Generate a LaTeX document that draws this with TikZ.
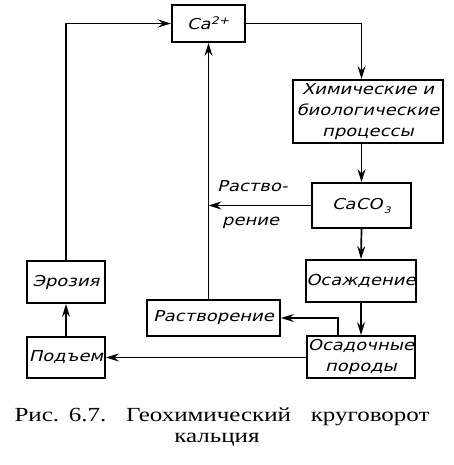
\documentclass[tikz,border=0pt]{standalone}
\usepackage{fontspec}
\setmainfont{Liberation Serif}[FakeStretch=1.25]
\newfontfamily\gostfont{DejaVu Sans}[FakeSlant=0.25, FakeStretch=1.2]
\usepackage{tikz}
\usetikzlibrary{arrows.meta,positioning}

\begin{document}
\begin{tikzpicture}[x=1pt, y=-1pt,
  cbox/.style={draw, line width=1.9pt, inner sep=0pt, align=center,
    font=\gostfont\fontsize{15}{21}\selectfont},
  arr/.style={-{Stealth[length=13pt, width=8pt, inset=4.5pt]}, line width=1.7pt},
  lbl/.style={font=\gostfont\fontsize{15}{21}\selectfont, anchor=base west, inner sep=0pt},
  capt/.style={font=\fontsize{20}{22}\selectfont, inner sep=0pt, anchor=base}
]
  \useasboundingbox (0,0) rectangle (454,465);

  \node[cbox, minimum width=73pt, minimum height=37pt] (ca) at (208.5,23.5) {Ca\textsuperscript{2+}};
  \node[cbox, minimum width=150pt, minimum height=63pt] (chem) at (368,111.5)
    {Химические и\\биологические\\процессы};
  \node[cbox, minimum width=99pt, minimum height=45pt] (caco) at (361.5,205.5)
    {CaCO\kern1.5pt\raisebox{-4pt}{\small 3}};
  \node[cbox, minimum width=108pt, minimum height=42pt] (osazh) at (361,281) {Осаждение};
  \node[cbox, minimum width=108pt, minimum height=42pt] (porody) at (361,357) {Осадочные\\породы};
  \node[cbox, minimum width=133pt, minimum height=36pt] (rastv) at (213.5,318) {Растворение};
  \node[cbox, minimum width=78pt, minimum height=42pt] (erozia) at (66,282) {Эрозия};
  \node[cbox, minimum width=78pt, minimum height=41pt] (podem) at (66,357.5) {Подъем};

  \coordinate (split) at (ca.south |- caco.west);

  \draw[arr] (erozia.north) |- (ca.west);
  \draw[arr] (ca.east) -| (caco.north |- chem.north);
  \draw[arr] (caco.north |- chem.south) -- (caco.north);
  \draw[arr] (caco.west) -- (split);
  \draw[arr] (rastv.north -| ca.south) -- (ca.south);
  \draw[arr] (caco.south) -- (osazh.north);
  \draw[arr] (osazh.south) -- (porody.north);
  \draw[arr] ([xshift=-23pt]porody.north) |- (rastv.east);
  \draw[arr] (porody.west |- podem.east) -- (podem.east);
  \draw[arr] (podem.north) -- (erozia.south);

  \node[lbl] (rlabel1) at (217,191) {Раство-};
  \node[lbl] (rlabel2) at (222,225) {рение};

  \node[capt] (cap1) at (222,421)
    {\makebox[415pt][s]{Рис.\hfill 6.7.\hfill\hfill Геохимический\hfill\hfill круговорот}};
  \node[capt] (cap2) at (217,442) {кальция};
\end{tikzpicture}
\end{document}
